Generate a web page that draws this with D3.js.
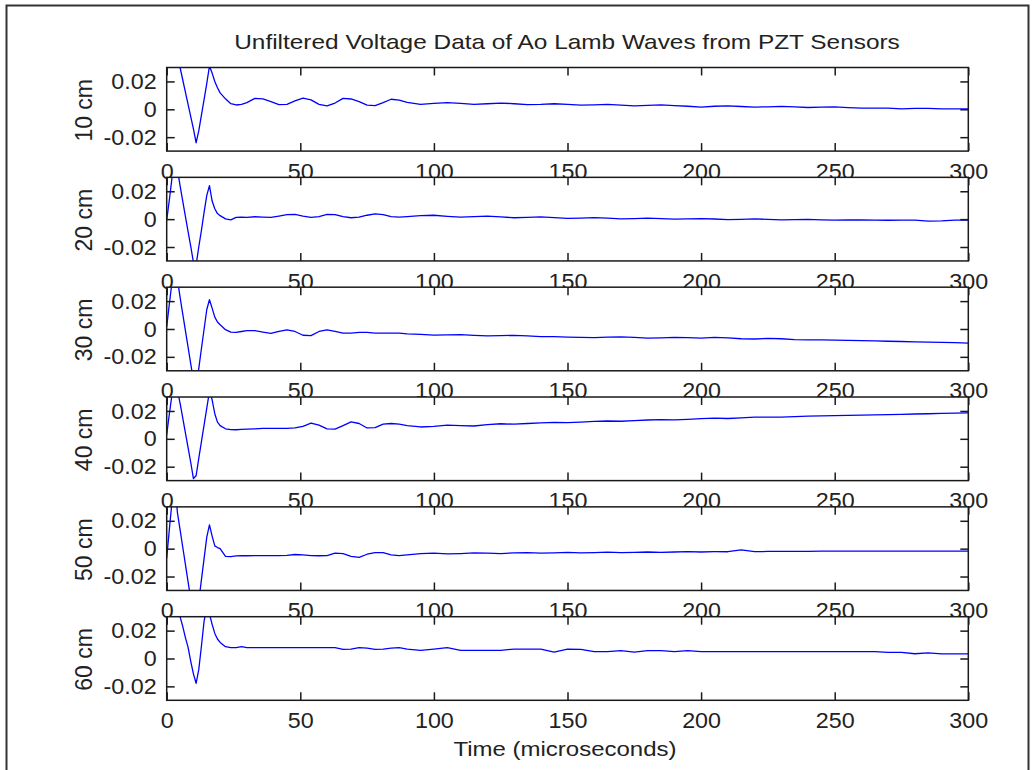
<!DOCTYPE html>
<html>

<head>
    <script src="https://d3js.org/d3.v7.min.js"></script>
    <style>
        body { margin: 0; background: #fff; }
        text { font-family: "Liberation Sans", Arial, sans-serif; fill: #222; }
    </style>
</head>

<body>
    <div id="chart"></div>
    <script>
        // time samples (microseconds), shared by every sensor trace
        const times = [0, 1, 2, 3, 4, 5, 6, 7, 8, 9, 10, 11, 12, 13, 14, 15, 16, 17, 18, 19, 20, 22, 24,
            26, 28, 30, 33, 36, 39, 42, 45, 48, 51, 54, 57, 60, 63, 66, 69, 72, 75, 78, 81, 84, 87,
            90, 95, 100, 105, 110, 115, 120, 125, 130, 135, 140, 145, 150, 155, 160, 165, 170, 175, 180, 185, 190, 195,
            200, 205, 210, 215, 220, 225, 230, 235, 240, 245, 250, 255, 260, 265, 270, 275, 280, 285, 290, 295, 300]

        const v10 = [0.06, 0.075, 0.08, 0.07, 0.05, 0.03, 0.0212, 0.0124, 0.0036, -0.0052, -0.014, -0.024, -0.0155, -0.0042, 0.0072, 0.0186, 0.031, 0.026, 0.02, 0.0155, 0.0118, 0.0075, 0.004,
            0.0031, 0.0035, 0.0048, 0.0078, 0.0075, 0.0055, 0.0033, 0.0035, 0.006, 0.008, 0.0068, 0.0035, 0.0025, 0.0045, 0.0078, 0.0074, 0.0055, 0.003, 0.0026, 0.0048, 0.0072, 0.0066,
            0.005, 0.0035, 0.0042, 0.0048, 0.0042, 0.0035, 0.004, 0.0045, 0.004, 0.0033, 0.0035, 0.004, 0.0035, 0.003, 0.0032, 0.0036, 0.003, 0.0025, 0.0028, 0.0032, 0.0027, 0.0022,
            0.0015, 0.0022, 0.0024, 0.002, 0.0016, 0.0018, 0.0021, 0.0017, 0.0013, 0.0015, 0.0017, 0.0012, 0.0008, 0.0009, 0.0008, 0.0003, 0.0007, 0.0007, 0.0003, 0.0003, 0.0003]

        const v20 = [-0.0007, 0.014, 0.03, 0.05, 0.036, 0.024, 0.013, 0.002, -0.009, -0.0195, -0.031, -0.033, -0.02, -0.008, 0.005, 0.017, 0.024, 0.013, 0.0075, 0.004, 0.0025, 0.0002, -0.0005,
            0.0012, 0.0014, 0.0013, 0.0017, 0.0015, 0.0012, 0.0022, 0.0032, 0.0034, 0.0022, 0.0012, 0.0018, 0.0034, 0.0032, 0.0018, 0.001, 0.0014, 0.0028, 0.0038, 0.0032, 0.0018, 0.0015,
            0.0018, 0.0025, 0.0028, 0.002, 0.0014, 0.0018, 0.0022, 0.0016, 0.001, 0.0012, 0.0016, 0.0011, 0.0006, 0.0008, 0.0011, 0.0007, 0.0002, 0.0004, 0.0008, 0.0004, 0, 0.0002,
            0.0004, 0.0001, -0.0003, -0.0001, 0.0002, -0.0002, -0.0005, -0.0004, -0.0002, -0.0005, -0.0007, -0.0006, -0.0005, -0.0007, -0.0008, -0.0007, -0.0007, -0.0014, -0.0012, -0.0007, -0.0007]

        const v30 = [0.0017, 0.018, 0.034, 0.05, 0.036, 0.0228, 0.0108, -0.0012, -0.013, -0.025, -0.037, -0.042, -0.0285, -0.014, 0, 0.014, 0.021, 0.015, 0.0085, 0.005, 0.003, -0.0005, -0.0022,
            -0.0024, -0.0018, -0.0012, -0.0012, -0.0022, -0.0031, -0.0018, -0.0006, -0.0018, -0.0045, -0.0048, -0.0018, -0.0006, -0.0018, -0.003, -0.003, -0.0024, -0.0024, -0.003, -0.003, -0.003, -0.003,
            -0.0035, -0.0038, -0.0044, -0.0042, -0.004, -0.0046, -0.005, -0.0048, -0.0046, -0.005, -0.0055, -0.0055, -0.0058, -0.006, -0.0062, -0.0058, -0.0056, -0.006, -0.0066, -0.0064, -0.006, -0.0062,
            -0.0066, -0.006, -0.0064, -0.007, -0.0072, -0.0068, -0.007, -0.0076, -0.0078, -0.0078, -0.008, -0.0082, -0.0084, -0.0086, -0.0088, -0.009, -0.0092, -0.0094, -0.0096, -0.0098, -0.0102]

        const v40 = [0.003, 0.018, 0.032, 0.05, 0.035, 0.0257, 0.015, 0.0043, -0.0064, -0.017, -0.0285, -0.0265, -0.014, -0.002, 0.01, 0.022, 0.034, 0.028, 0.018, 0.012, 0.0095, 0.0072, 0.0066,
            0.0065, 0.0068, 0.007, 0.0072, 0.0075, 0.0075, 0.0075, 0.0075, 0.0078, 0.009, 0.0112, 0.0098, 0.0072, 0.007, 0.0095, 0.0122, 0.011, 0.0078, 0.008, 0.0105, 0.011, 0.0105,
            0.0095, 0.0085, 0.009, 0.0098, 0.0095, 0.0092, 0.0102, 0.0108, 0.0105, 0.011, 0.0115, 0.0118, 0.0116, 0.012, 0.0125, 0.0128, 0.0126, 0.013, 0.0135, 0.0138, 0.0136, 0.014,
            0.0145, 0.0148, 0.0146, 0.015, 0.0155, 0.0156, 0.0156, 0.016, 0.0163, 0.0165, 0.0166, 0.0168, 0.017, 0.0172, 0.0174, 0.0175, 0.0178, 0.018, 0.0182, 0.0184, 0.0186]

        const v50 = [-0.0068, 0.014, 0.034, 0.05, 0.026, 0.0137, 0.0012, -0.0113, -0.0238, -0.036, -0.045, -0.048, -0.038, -0.0222, -0.007, 0.0083, 0.017, 0.009, 0.002, 0.0008, 0, -0.0055, -0.0057,
            -0.0052, -0.0051, -0.0051, -0.005, -0.005, -0.005, -0.005, -0.0048, -0.0042, -0.0045, -0.005, -0.0051, -0.005, -0.0032, -0.0035, -0.0055, -0.0062, -0.004, -0.0028, -0.0028, -0.0045, -0.005,
            -0.0045, -0.0035, -0.0032, -0.0038, -0.0035, -0.003, -0.0032, -0.0035, -0.003, -0.0028, -0.0032, -0.003, -0.0027, -0.003, -0.0028, -0.0025, -0.0028, -0.0026, -0.0024, -0.0026, -0.0024, -0.0022,
            -0.0024, -0.0022, -0.0022, -0.0008, -0.0022, -0.002, -0.002, -0.0019, -0.0019, -0.0018, -0.0018, -0.0018, -0.0018, -0.0018, -0.0018, -0.0018, -0.0018, -0.0018, -0.0018, -0.0018, -0.0018]

        const v60 = [0.04, 0.06, 0.07, 0.06, 0.045, 0.03, 0.023, 0.015, 0.008, -0.002, -0.011, -0.0178, -0.008, 0.009, 0.027, 0.036, 0.032, 0.0245, 0.018, 0.014, 0.0115, 0.0085, 0.0078,
            0.0078, 0.0086, 0.0078, 0.0078, 0.0078, 0.0078, 0.0078, 0.0078, 0.0078, 0.0078, 0.0078, 0.0078, 0.0078, 0.0078, 0.0066, 0.0068, 0.0078, 0.0074, 0.0066, 0.0068, 0.0074, 0.0078,
            0.0068, 0.0058, 0.0068, 0.0078, 0.0058, 0.0058, 0.0058, 0.0058, 0.0068, 0.0068, 0.0068, 0.0046, 0.0068, 0.0066, 0.005, 0.005, 0.0056, 0.0046, 0.0056, 0.0056, 0.0049, 0.0056,
            0.0049, 0.0049, 0.0049, 0.0049, 0.0049, 0.0049, 0.0049, 0.0049, 0.0049, 0.0049, 0.0049, 0.0049, 0.0049, 0.0049, 0.0044, 0.0044, 0.0034, 0.004, 0.0033, 0.0033, 0.0033, 0.0033]

        const series = [v10, v20, v30, v40, v50, v60]
        const labels = ["10 cm", "20 cm", "30 cm", "40 cm", "50 cm", "60 cm"]
        const xTicks = [0, 50, 100, 150, 200, 250, 300]
        const yTicks = [-0.02, 0, 0.02]

        const width = 1032
        const height = 770
        const left = 166.7
        const right = 968.3
        const top0 = 67.5
        const step = 109.84
        const plotH = 83.6
        const sx = 1.06   // the original font is a little wider than Arial

        const svg = d3.select("#chart").append("svg")
            .attr("width", width)
            .attr("height", height)

        svg.append("rect")
            .attr("x", 6.5).attr("y", 5.5)
            .attr("width", 1022).attr("height", 780)
            .attr("fill", "#fff")
            .attr("stroke", "#333")
            .attr("stroke-width", 2)

        const xScale = d3.scaleLinear().domain([0, 300]).range([left, right])

        const fmtY = d => d === 0 ? "0" : (d < 0 ? "-" : "") + Math.abs(d).toFixed(2)

        series.forEach((vals, i) => {
            const top = top0 + i * step
            const yScale = d3.scaleLinear().domain([-0.03, 0.03]).range([top + plotH, top])

            const g = svg.append("g")

            g.append("rect")
                .attr("x", left).attr("y", top)
                .attr("width", right - left).attr("height", plotH)
                .attr("fill", "#fff")

            g.append("clipPath").attr("id", "clip" + i)
                .append("rect")
                .attr("x", left).attr("y", top)
                .attr("width", right - left).attr("height", plotH)

            const line = d3.line()
                .x((d, j) => xScale(times[j]))
                .y(d => yScale(d))

            g.append("path")
                .datum(vals)
                .attr("clip-path", "url(#clip" + i + ")")
                .attr("fill", "none")
                .attr("stroke", "#0000ff")
                .attr("stroke-width", 1.3)
                .attr("stroke-linejoin", "round")
                .attr("d", line)

            const xBottom = d3.axisBottom(xScale).tickValues(xTicks)
                .tickSizeInner(-8).tickSizeOuter(0).tickPadding(12)
            const xTop = d3.axisTop(xScale).tickValues(xTicks)
                .tickSizeInner(-8).tickSizeOuter(0).tickFormat("")
            const yLeft = d3.axisLeft(yScale).tickValues(yTicks)
                .tickSizeInner(-8).tickSizeOuter(0).tickPadding(10 / sx).tickFormat(fmtY)
            const yRight = d3.axisRight(yScale).tickValues(yTicks)
                .tickSizeInner(-8).tickSizeOuter(0).tickFormat("")

            const axes = [
                g.append("g").attr("transform", "translate(0," + (top + plotH) + ")").call(xBottom),
                g.append("g").attr("transform", "translate(0," + top + ")").call(xTop),
                g.append("g").attr("transform", "translate(" + left + ",0)").call(yLeft),
                g.append("g").attr("transform", "translate(" + right + ",0)").call(yRight)
            ]
            axes.forEach(a => {
                a.select(".domain").remove()
                a.selectAll("line").attr("stroke", "#1a1a1a").attr("stroke-width", 1.5)
                a.selectAll("text")
                    .attr("font-size", 22)
                    .attr("fill", "#222")
                    .attr("font-family", "Liberation Sans, Arial, sans-serif")
                    .attr("transform", "scale(" + sx + ",1)")
            })

            g.append("rect")
                .attr("x", left).attr("y", top)
                .attr("width", right - left).attr("height", plotH)
                .attr("fill", "none")
                .attr("stroke", "#1a1a1a")
                .attr("stroke-width", 1.5)

            g.append("text")
                .attr("transform", "translate(91.5," + (top + plotH / 2 + 1) + ") rotate(-90)")
                .attr("text-anchor", "middle")
                .attr("font-size", 23)
                .text(labels[i])
        })

        svg.append("text")
            .attr("transform", "translate(567,49) scale(1.22,1)")
            .attr("text-anchor", "middle")
            .attr("font-size", 20)
            .text("Unfiltered Voltage Data of Ao Lamb Waves from PZT Sensors")

        svg.append("text")
            .attr("transform", "translate(565,756) scale(1.2,1)")
            .attr("text-anchor", "middle")
            .attr("font-size", 20)
            .text("Time (microseconds)")
    </script>
</body>

</html>
